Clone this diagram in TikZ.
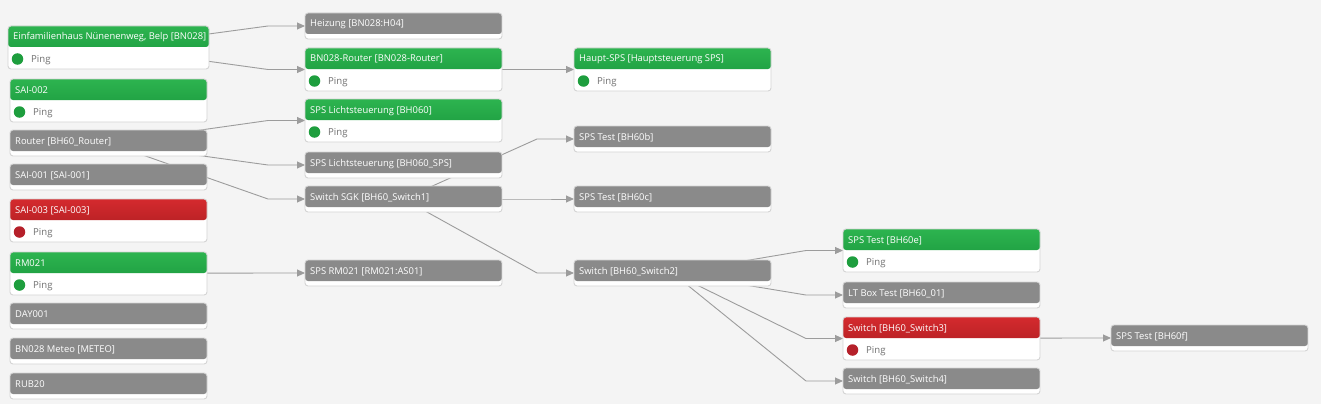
\documentclass[tikz,border=0pt]{standalone}
\usepackage{fontspec}
\setmainfont{Open Sans}
\usetikzlibrary{arrows.meta,calc}
\pgfdeclarelayer{bg}
\pgfsetlayers{bg,main}
\definecolor{bgc}{HTML}{F4F4F4}
\definecolor{hgray}{HTML}{8A8A8A}
\definecolor{gtop}{HTML}{2DB44F}
\definecolor{gbot}{HTML}{16923A}
\definecolor{rtop}{HTML}{D42A2E}
\definecolor{rbot}{HTML}{A51B1E}
\definecolor{bord}{HTML}{D4D4D4}
\definecolor{edgec}{HTML}{9C9C9C}
\definecolor{pingc}{HTML}{707070}
\definecolor{dotg}{HTML}{1E9E3E}
\definecolor{dotr}{HTML}{B5202A}
\tikzset{
  box/.style={draw=bord, line width=0.9pt, fill=white, rounded corners=3pt,
    minimum width=197pt, inner sep=0pt, outer sep=0pt, anchor=north west},
  graybox/.style={box, minimum height=26pt, path picture={
    \fill[hgray] (path picture bounding box.north west) rectangle ([yshift=-21pt]path picture bounding box.north east);}},
  greenbox/.style={box, minimum height=43pt, path picture={
    \shade[top color=gtop, bottom color=gbot] (path picture bounding box.north west) rectangle ([yshift=-21pt]path picture bounding box.north east);}},
  redbox/.style={box, minimum height=43pt, path picture={
    \shade[top color=rtop, bottom color=rbot] (path picture bounding box.north west) rectangle ([yshift=-21pt]path picture bounding box.north east);}},
  titletext/.style={anchor=base west, inner sep=0pt, text=white, font=\fontsize{9.4}{11}\selectfont},
  pingtext/.style={anchor=base west, inner sep=0pt, text=pingc, font=\fontsize{9.6}{11}\selectfont},
  dotshape/.style={circle, inner sep=0pt, minimum size=11.5pt},
  link/.style={draw=edgec, line width=0.9pt, -{Triangle[length=8pt,width=7pt]}}
}
\newcommand{\devnode}[4]{%
  \node[#2] (#1) at (#3) {};
  \node[titletext] (#1-t) at ([xshift=5pt,yshift=-14pt]#1.north west) {#4};}
\newcommand{\pingrow}[2]{%
  \node[dotshape, fill=#2] (#1-d) at ([xshift=9.5pt,yshift=-33pt]#1.north west) {};
  \node[pingtext] (#1-p) at ([xshift=23pt,yshift=-36.5pt]#1.north west) {Ping};}
\newcommand{\linkto}[2]{%
  \draw[link] (#1.center) -- ([xshift=-37pt]#2.west) -- (#2.west);}
\begin{document}
\begin{tikzpicture}[x=1pt,y=-1pt]
\useasboundingbox (0,0) rectangle (1321,404);
\begin{pgfonlayer}{bg}
\fill[bgc] (0,0) rectangle (1321,404);
\end{pgfonlayer}
% column 1
\devnode{einf}{greenbox,minimum width=201pt}{8,26}{Einfamilienhaus Nünenenweg, Belp [BN028]}
\pingrow{einf}{dotg}
\devnode{sai2}{greenbox}{10,79}{SAI-002}
\pingrow{sai2}{dotg}
\devnode{router}{graybox}{10,130}{Router [BH60\_Router]}
\devnode{sai1}{graybox}{10,164}{SAI-001 [SAI-001]}
\devnode{sai3}{redbox}{10,199}{SAI-003 [SAI-003]}
\pingrow{sai3}{dotr}
\devnode{rm}{greenbox}{10,252}{RM021}
\pingrow{rm}{dotg}
\devnode{day}{graybox}{10,303}{DAY001}
\devnode{meteo}{graybox}{10,338}{BN028 Meteo [METEO]}
\devnode{rub}{graybox}{10,373}{RUB20}
% column 2
\devnode{heiz}{graybox}{305,13}{Heizung [BN028:H04]}
\devnode{bnr}{greenbox}{305,48}{BN028-Router [BN028-Router]}
\pingrow{bnr}{dotg}
\devnode{licht}{greenbox}{305,99}{SPS Lichtsteuerung [BH060]}
\pingrow{licht}{dotg}
\devnode{lichtsps}{graybox}{305,152}{SPS Lichtsteuerung [BH060\_SPS]}
\devnode{sgk}{graybox}{305,186}{Switch SGK [BH60\_Switch1]}
\devnode{spsrm}{graybox}{305,260}{SPS RM021 [RM021:AS01]}
% column 3
\devnode{haupt}{greenbox}{574,48}{Haupt-SPS [Hauptsteuerung SPS]}
\pingrow{haupt}{dotg}
\devnode{bhb}{graybox}{574,126}{SPS Test [BH60b]}
\devnode{bhc}{graybox}{574,186}{SPS Test [BH60c]}
\devnode{sw2}{graybox}{574,260}{Switch [BH60\_Switch2]}
% column 4
\devnode{bhe}{greenbox}{843,229}{SPS Test [BH60e]}
\pingrow{bhe}{dotg}
\devnode{ltb}{graybox}{843,282}{LT Box Test [BH60\_01]}
\devnode{sw3}{redbox}{843,317}{Switch [BH60\_Switch3]}
\pingrow{sw3}{dotr}
\devnode{sw4}{graybox}{843,368}{Switch [BH60\_Switch4]}
% column 5
\devnode{bhf}{graybox}{1111,325}{SPS Test [BH60f]}
% connectors
\begin{pgfonlayer}{bg}
\linkto{einf}{heiz}
\linkto{einf}{bnr}
\linkto{router}{licht}
\linkto{router}{lichtsps}
\linkto{router}{sgk}
\linkto{rm}{spsrm}
\linkto{bnr}{haupt}
\linkto{sgk}{bhb}
\linkto{sgk}{bhc}
\linkto{sgk}{sw2}
\linkto{sw2}{bhe}
\linkto{sw2}{ltb}
\linkto{sw2}{sw3}
\linkto{sw2}{sw4}
\linkto{sw3}{bhf}
\end{pgfonlayer}
\end{tikzpicture}
\end{document}
